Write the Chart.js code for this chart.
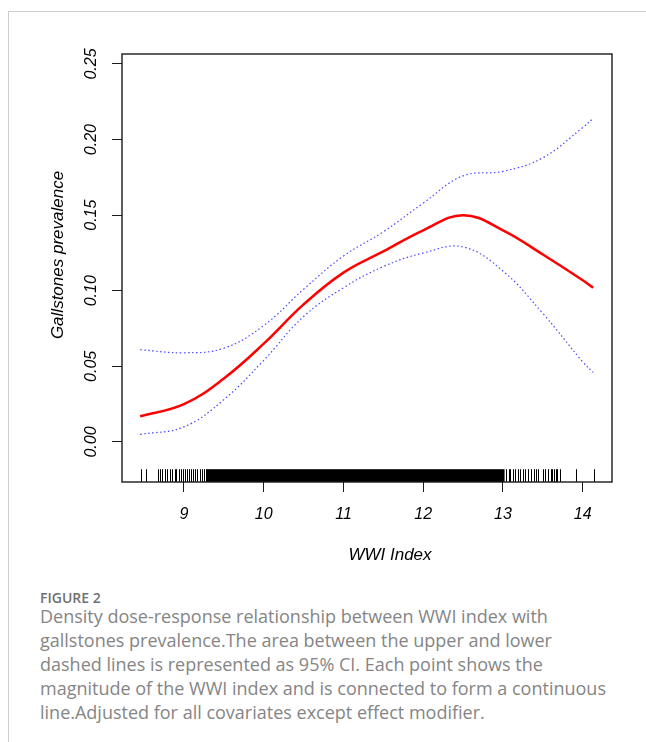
<!DOCTYPE html>
<html>
<head>
<meta charset="utf-8">
<script src="https://cdn.jsdelivr.net/npm/chart.js@4.4.1/dist/chart.umd.min.js"></script>
<style>
  html, body { margin: 0; padding: 0; background: #fff; }
  body { width: 646px; height: 742px; position: relative; overflow: hidden; font-family: 'Open Sans', sans-serif; }
  .card { position: absolute; left: 8px; top: 11px; width: 700px; height: 800px; border-left: 1px solid #cdcdcd; border-top: 1px solid #cdcdcd; }
  .wrap { position: absolute; left: 0; top: 0; width: 646px; height: 580px; }
  .fig-label { position: absolute; left: 40px; top: 588px; font-size: 14px; font-weight: 600; color: #707070; }
  .fig-caption { position: absolute; left: 40px; top: 604px; font-size: 18px; line-height: 24px; color: #858585; white-space: nowrap; }
</style>
</head>
<body>
<div class="card"></div>
<div class="wrap"><canvas id="doseChart"></canvas></div>
<div class="fig-label">FIGURE 2</div>
<div class="fig-caption">
  <div>Density dose-response relationship between WWI index with</div>
  <div>gallstones prevalence.The area between the upper and lower</div>
  <div>dashed lines is represented as 95% CI. Each point shows the</div>
  <div>magnitude of the WWI index and is connected to form a continuous</div>
  <div>line.Adjusted for all covariates except effect modifier.</div>
</div>
<script>
// values
const wwi     = [8.45, 9.0, 9.5, 10.0, 10.5, 11.0, 11.5, 12.0, 12.5, 13.0, 13.5, 14.0, 14.13]
const fitted  = [0.017, 0.025, 0.042, 0.065, 0.091, 0.112, 0.126, 0.140, 0.150, 0.140, 0.124, 0.107, 0.102]
const upperCI = [0.061, 0.059, 0.062, 0.077, 0.101, 0.123, 0.139, 0.158, 0.176, 0.179, 0.188, 0.208, 0.214]
const lowerCI = [0.005, 0.010, 0.028, 0.054, 0.083, 0.102, 0.116, 0.125, 0.129, 0.113, 0.085, 0.053, 0.046]

// rug of observed WWI values (single ticks at the sparse ends, solid where they merge)
const rugTicks = [8.46, 8.52, 8.674, 8.704, 8.729, 8.758, 8.791, 8.82, 8.849, 8.883, 8.904, 8.933, 8.958,
  8.987, 9.009, 9.038, 9.063, 9.093, 9.118, 9.143, 9.168, 9.197, 9.222, 9.247, 9.272,
  13.04, 13.07, 13.094, 13.123, 13.157, 13.186, 13.216, 13.248, 13.282, 13.311, 13.354, 13.386,
  13.416, 13.445, 13.50, 13.53, 13.56, 13.60, 13.62, 13.64, 13.66, 13.68, 13.72, 13.91, 14.14]
const rugDense = [[9.28, 13.02]]

const xTicks = [9, 10, 11, 12, 13, 14]
const yTicks = [0, 0.05, 0.10, 0.15, 0.20, 0.25]

const toPts = ys => wwi.map((x, i) => ({ x, y: ys[i] }))
const tickFont = { family: 'Liberation Sans', style: 'italic', size: 16 }

const frame = {
  id: 'frame',
  afterDatasetsDraw(chart) {
    const { ctx, chartArea: a, scales: { x } } = chart
    const h = 12.8
    ctx.save()
    ctx.fillStyle = '#000'
    rugDense.forEach(([s, e]) => {
      const x1 = x.getPixelForValue(s), x2 = x.getPixelForValue(e)
      ctx.fillRect(x1, a.bottom - h, x2 - x1, h)
    })
    ctx.strokeStyle = '#000'
    ctx.lineWidth = 1
    rugTicks.forEach(v => {
      const px = Math.round(x.getPixelForValue(v)) + 0.5
      ctx.beginPath()
      ctx.moveTo(px, a.bottom)
      ctx.lineTo(px, a.bottom - h)
      ctx.stroke()
    })
    ctx.lineWidth = 1.4
    ctx.strokeStyle = '#1a1a1a'
    ctx.strokeRect(a.left, a.top, a.right - a.left, a.bottom - a.top)

    ctx.fillStyle = '#000'
    ctx.font = 'italic 17px "Liberation Sans"'
    ctx.textAlign = 'center'
    ctx.textBaseline = 'middle'
    ctx.fillText('WWI Index', 390, 555)
    ctx.translate(58, 255)
    ctx.rotate(-Math.PI / 2)
    ctx.fillText('Gallstones prevalence', 0, 0)
    ctx.restore()
  }
}

const ciStyle = { borderColor: 'rgba(40,40,255,0.85)', borderWidth: 1.2, borderDash: [1.5, 2.5], pointRadius: 0, tension: 0.4 }

new Chart(document.getElementById('doseChart'), {
  type: 'line',
  data: {
    datasets: [
      { data: toPts(upperCI), ...ciStyle },
      { data: toPts(lowerCI), ...ciStyle },
      { data: toPts(fitted), borderColor: '#ff0000', borderWidth: 2.5, pointRadius: 0, tension: 0.4 },
    ],
  },
  options: {
    responsive: true,
    maintainAspectRatio: false,
    animation: false,
    layout: { padding: { left: 0, top: 54, right: 34, bottom: 0 } },
    plugins: { legend: { display: false }, tooltip: { enabled: false } },
    scales: {
      x: {
        type: 'linear', min: 8.223, max: 14.367,
        afterBuildTicks: s => { s.ticks = xTicks.map(v => ({ value: v })) },
        afterFit: s => { s.height = 98 },
        grid: { drawOnChartArea: false, tickLength: 10, color: '#1a1a1a', lineWidth: 1 },
        border: { display: false },
        ticks: { color: '#000', font: tickFont, padding: 13, maxRotation: 0, autoSkip: false, callback: v => String(v) },
      },
      y: {
        type: 'linear', min: -0.02646, max: 0.2566,
        afterBuildTicks: s => { s.ticks = yTicks.map(v => ({ value: v })) },
        afterFit: s => { s.width = 122 },
        grid: { drawOnChartArea: false, tickLength: 10, color: '#1a1a1a', lineWidth: 1 },
        border: { display: false },
        ticks: { color: '#000', font: tickFont, padding: 5, minRotation: 90, maxRotation: 90, crossAlign: 'center', autoSkip: false, callback: v => v.toFixed(2) },
      },
    },
  },
  plugins: [frame],
})
</script>
</body>
</html>
